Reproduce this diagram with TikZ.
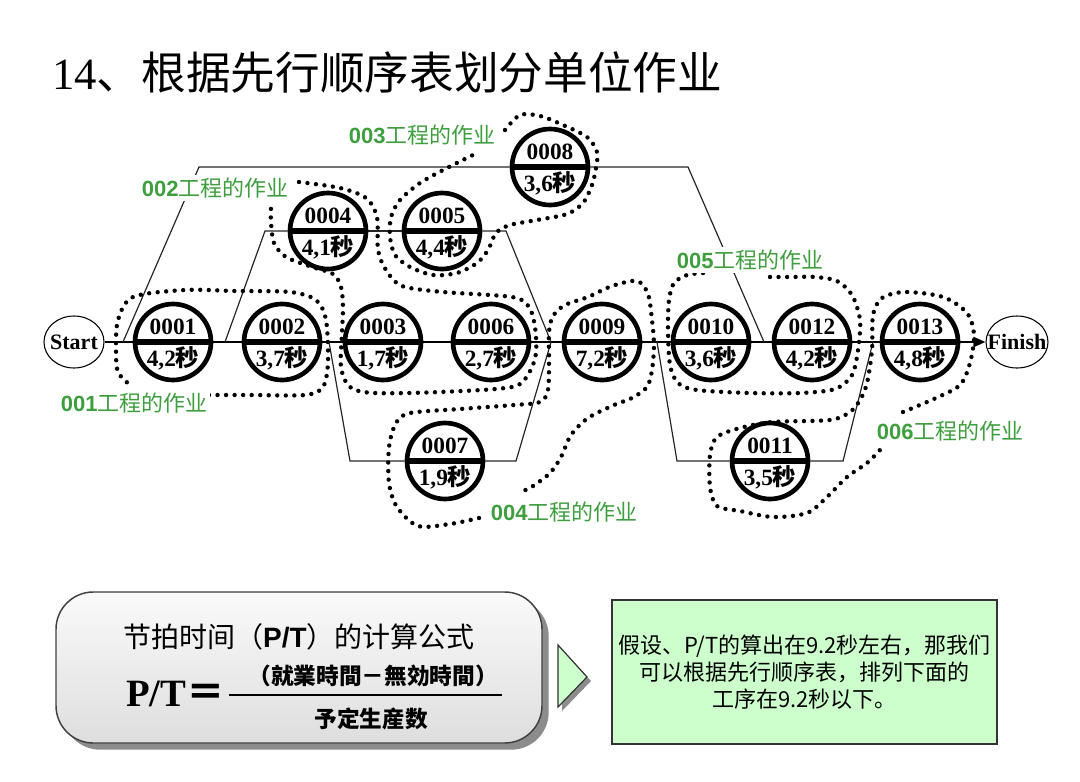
\documentclass[tikz,border=0pt]{standalone}
\usepackage{fontspec}
\setmainfont{Liberation Serif}
\newfontfamily\cjk{Noto Sans CJK SC}
\newfontfamily\lsans{Liberation Sans}
\usetikzlibrary{shapes.geometric,arrows.meta,shadows}
\pgfdeclarelayer{bg}
\pgfsetlayers{bg,main}
\definecolor{lblgreen}{HTML}{3F9F3F}
\definecolor{boxgreen}{HTML}{CCFFCC}
\newcommand\wsn[5]{%
  \node[ws] (#1) at (#2,#3) {};
  \draw[wsbar] (#1.west) -- (#1.east);
  \node[wsnum] (#1a) at ([yshift=11.5pt]#1.center) {#4};
  \node[wsnum] (#1b) at ([yshift=-12pt]#1.center) {#5{\cjk\bfseries 秒}};
}
\begin{document}
\begin{tikzpicture}[x=0.75pt,y=-0.75pt,
  ws/.style={circle,draw,line width=3.5pt,minimum size=57pt,inner sep=0pt},
  wsbar/.style={line width=4pt},
  wsnum/.style={font=\fontsize{17.5}{17.5}\selectfont\bfseries,inner sep=0pt},
  grp/.style={line width=3.3pt,line cap=round,dash pattern=on 0pt off 6.4pt},
  thinln/.style={line width=0.9pt,black!85},
  mainln/.style={line width=1.6pt,-{Triangle[length=9pt,width=7.5pt]}},
  lbl/.style={anchor=west,fill=white,inner sep=2pt,text=lblgreen,font=\fontsize{16.5}{16.5}\selectfont},
  endpt/.style={ellipse,draw,line width=0.8pt,inner sep=0pt},
  endtxt/.style={font=\fontsize{16.5}{16.5}\selectfont\bfseries,inner sep=0pt},
]
\useasboundingbox (0,0) rectangle (1080,781);

% title
\node[anchor=west,inner sep=0pt,font=\fontsize{33.5}{33.5}\selectfont] (title) at (52,72) {14{\cjk 、根据先行顺序表划分单位作业}};

% start / finish
\node[endpt,minimum width=45pt,minimum height=39pt] (start) at (74,342) {};
\node[endtxt] (starttxt) at (start.center) {Start};
\node[endpt,minimum width=46.5pt,minimum height=39pt] (finish) at (1017,342) {};
\node[endtxt] (finishtxt) at (finish.center) {Finish};

% work elements
\wsn{n0001}{173}{342}{0001}{4,2}
\wsn{n0002}{282}{342}{0002}{3,7}
\wsn{n0003}{383}{342}{0003}{1,7}
\wsn{n0006}{491}{342}{0006}{2,7}
\wsn{n0009}{602}{342}{0009}{7,2}
\wsn{n0010}{711}{342}{0010}{3,6}
\wsn{n0012}{812}{342}{0012}{4,2}
\wsn{n0013}{920}{342}{0013}{4,8}
\wsn{n0004}{328}{231}{0004}{4,1}
\wsn{n0005}{442}{231}{0005}{4,4}
\wsn{n0008}{550}{167}{0008}{3,6}
\wsn{n0007}{445}{461}{0007}{1,9}
\wsn{n0011}{770}{461}{0011}{3,5}

% connectors
\coordinate (a1) at (123,342); \coordinate (a2) at (199,167);
\coordinate (a3) at (688,167); \coordinate (a4) at (764,342);
\coordinate (b1) at (225,342); \coordinate (b2) at (265,231);
\coordinate (b3) at (506,231); \coordinate (m1) at (551,342);
\coordinate (c1) at (329,342); \coordinate (c2) at (350,461);
\coordinate (c3) at (516,461);
\coordinate (d1) at (657,342); \coordinate (d2) at (677,461);
\coordinate (d3) at (843,461); \coordinate (d4) at (873,342);
\begin{pgfonlayer}{bg}
  \draw[mainln] (start) -- (finish);
  \draw[thinln] (a1) -- (a2) -- (n0008.west);
  \draw[thinln] (n0008.east) -- (a3) -- (a4);
  \draw[thinln] (b1) -- (b2) -- (n0004.west);
  \draw[thinln] (n0004.east) -- (n0005.west);
  \draw[thinln] (n0005.east) -- (b3) -- (m1);
  \draw[thinln] (c1) -- (c2) -- (n0007.west);
  \draw[thinln] (n0007.east) -- (c3) -- (m1);
  \draw[thinln] (d1) -- (d2) -- (n0011.west);
  \draw[thinln] (n0011.east) -- (d3) -- (d4);
\end{pgfonlayer}

% dotted groups
\draw[grp] plot[smooth] coordinates {(209,395) (250,395) (305,395) (323,387) (328,362) (326,320) (316,300) (290,292) (235,291) (185,290) (133,297) (118,320) (116,350) (118,372) (130,385)};
\draw[grp] plot[smooth] coordinates {(299,182) (340,188) (366,198) (377,217) (378,250) (386,270) (402,286) (443,292) (512,297) (529,307) (535,327) (536,353) (529,373) (512,387) (440,392) (374,393) (350,387) (341,367) (342,333) (343,307) (341,287) (333,274) (312,267) (286,257) (274,243) (271,222) (271,207)};
\draw[grp] plot[smooth] coordinates {(505,130) (520,115) (540,116) (563,125) (587,137) (597,152) (596,168) (592,185) (583,203) (567,214) (537,220) (510,225) (496,233) (488,250) (477,263) (457,273) (433,275) (410,267) (395,255) (390,237) (391,217) (400,200) (420,183) (447,168) (477,153)};
\draw[grp] plot[smooth] coordinates {(479,518) (450,524) (418,526) (397,507) (389,483) (389,447) (396,423) (410,413) (460,409) (514,405) (540,402) (548,390) (549,360) (549,332) (553,316) (565,305) (588,297) (612,286) (637,281) (648,294) (652,320) (654,345) (652,370) (647,387) (632,398) (614,405) (588,418) (571,435) (561,457) (550,473) (533,486) (521,492)};
\draw[grp] plot[smooth] coordinates {(703,273) (687,275) (674,283) (669,300) (668,330) (670,365) (678,383) (697,390) (750,393) (800,393) (835,389) (852,375) (858,350) (860,320) (852,295) (837,281) (815,277) (790,277) (765,277)};
\draw[grp] plot[smooth] coordinates {(903,412) (936,398) (960,385) (970,363) (974,335) (967,313) (943,297) (905,292) (882,298) (873,315) (872,350) (867,383) (860,400) (850,412) (830,420) (773,422) (740,428) (717,437) (710,455) (710,487) (717,506) (740,511) (773,517) (807,513) (827,497) (847,477) (867,463) (880,450)};

% group labels
\node[lbl] (l001) at (58,403) {{\lsans\bfseries 001}{\cjk 工程的作业}};
\node[lbl] (l002) at (139,188) {{\lsans\bfseries 002}{\cjk 工程的作业}};
\node[lbl] (l003) at (346,135) {{\lsans\bfseries 003}{\cjk 工程的作业}};
\node[lbl] (l004) at (488,512) {{\lsans\bfseries 004}{\cjk 工程的作业}};
\node[lbl] (l005) at (674,260) {{\lsans\bfseries 005}{\cjk 工程的作业}};
\node[lbl] (l006) at (874,431) {{\lsans\bfseries 006}{\cjk 工程的作业}};

% formula box
\node[draw=black!75,line width=1.1pt,rounded corners=28pt,minimum width=364.5pt,minimum height=113.25pt,
  top color=black!2,bottom color=black!13,
  drop shadow={shadow xshift=5pt,shadow yshift=-5pt,fill=black!45,opacity=1}] (formula) at (299,667.5) {};
\node[font=\cjk\fontsize{21}{21}\selectfont,inner sep=0pt] (ftitle) at (299,637) {节拍时间（{\lsans\bfseries P/T}）的计算公式};
\node[anchor=west,inner sep=0pt,font=\bfseries\fontsize{29}{29}\selectfont] (ptlhs) at (126,694) {P/T{\cjk\bfseries ＝}};
\coordinate (fl) at (229,695); \coordinate (fr) at (502,695);
\draw[line width=0.9pt] (fl) -- (fr);
\node[font=\cjk\bfseries\fontsize{17}{17}\selectfont,inner sep=0pt] (fnum) at (373,676) {（就業時間－無効時間）};
\node[font=\cjk\bfseries\fontsize{17}{17}\selectfont,inner sep=0pt] (fden) at (371,719) {予定生産数};

% arrow triangle
\coordinate (t1) at (558,645); \coordinate (t2) at (587,677); \coordinate (t3) at (558,707);
\draw[fill=boxgreen,draw=black!80,line width=0.9pt,drop shadow={shadow xshift=3pt,shadow yshift=-3pt,fill=black!45,opacity=1}] (t1) -- (t2) -- (t3) -- cycle;

% note box
\node[draw=black!80,line width=0.9pt,fill=boxgreen,minimum width=288.75pt,minimum height=108pt,align=center,
  font=\cjk\fontsize{16.5}{20}\selectfont] (note) at (804.5,672) {假设、P/T的算出在9.2秒左右，那我们\\可以根据先行顺序表，排列下面的\\工序在9.2秒以下。};
\end{tikzpicture}
\end{document}
